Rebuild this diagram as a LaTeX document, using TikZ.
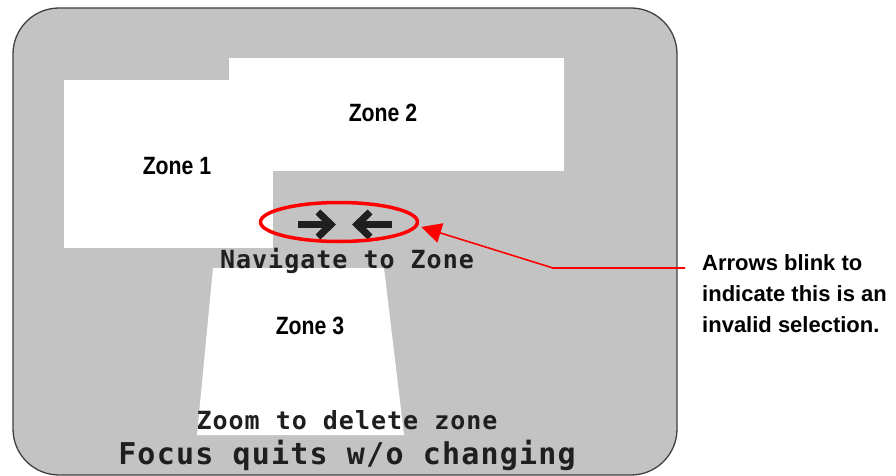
\documentclass[tikz,border=0pt]{standalone}
\usepackage{fontspec}
\setmainfont{Liberation Sans}
\newfontfamily\zonefont[FakeStretch=0.85]{Liberation Sans}
\newfontfamily\keyfont[LetterSpace=4, BoldFont={DejaVu Sans Mono Bold}, FakeBold=0]{DejaVu Sans Mono}
\usetikzlibrary{arrows.meta,shapes.geometric}
\definecolor{screengray}{RGB}{195,195,195}
\definecolor{hintred}{RGB}{255,0,0}

\begin{document}
\begin{tikzpicture}[x=1pt, y=-1pt,
  zone/.style={rectangle, fill=white, inner sep=0},
  zonetext/.style={node font=\zonefont\bfseries\fontsize{25}{30}\selectfont},
  keytext/.style={node font=\keyfont\bfseries\fontsize{#1}{#1}\selectfont, text=black!88},
  keytext/.default=25,
  blink/.style={line width=7pt, black!88, -{Straight Barb[length=13pt, width=25pt]}},
  callout/.style={hintred, line width=1.6pt, -{Triangle[length=20pt, width=20pt]}}]

\useasboundingbox (0,0) rectangle (896,476);

% screen
\draw[fill=screengray, draw=black!75, line width=1.3pt, rounded corners=46pt] (13,8) rectangle (677,475);

% zones
\node [zone, minimum width=209pt, minimum height=168pt] (Z1) at (168.5,164) {};
\node [zone, minimum width=335pt, minimum height=113pt] (Z2) at (396.5,114.5) {};
\fill[white] (213,268) -- (384,268) -- (404,435) -- (197,435) -- cycle;
\node [zonetext] (Z1L) at (177,166) {Zone 1};
\node [zonetext] (Z2L) at (383,113) {Zone 2};
\node [zonetext] (Z3L) at (310,326) {Zone 3};

% blinking arrows
\coordinate (RA) at (298,224.5);
\coordinate (RB) at (336,224.5);
\coordinate (LA) at (392,224.5);
\coordinate (LB) at (352,224.5);
\draw[blink] (RA) -- (RB);
\draw[blink] (LA) -- (LB);
\node [ellipse, draw=hintred, line width=3.5pt, minimum width=157pt, minimum height=39pt, inner sep=0] (SEL) at (339,222) {};

% key hints
\node [keytext] (NAV) at (347,261) {Navigate to Zone};
\node [keytext] (ZOOM) at (347,420) {Zoom to delete zone};
\node [keytext=30] (FOCUS) at (347,455) {Focus quits w/o changing};

% callout
\node [anchor=north west, inner sep=0, align=left, font=\bfseries\fontsize{22}{31}\selectfont] (NOTE) at (702,254) {Arrows blink to\\indicate this is an\\invalid selection.};
\coordinate (TAIL) at (685,268);
\coordinate (BEND) at (553,268);
\draw[callout] (TAIL) -- (BEND) -- ([xshift=2pt,yshift=-5pt]SEL.east);

\end{tikzpicture}
\end{document}
